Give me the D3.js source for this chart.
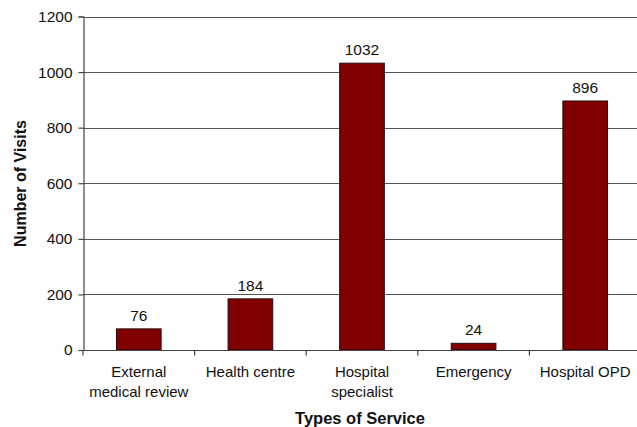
<!DOCTYPE html>
<html>
<head>
<meta charset="utf-8">
<script src="https://cdn.jsdelivr.net/npm/d3@7"></script>
<style>
  html, body { margin: 0; padding: 0; background: #fff; }
  svg { display: block; }
  text { font-family: "Liberation Sans", Arial, sans-serif; fill: #111; }
</style>
</head>
<body>
<svg id="chart" width="637" height="427"></svg>
<script>
// Visits per service type
const categories = [["External", "medical review"], ["Health centre"], ["Hospital", "specialist"], ["Emergency"], ["Hospital OPD"]];
const visits = [76, 184, 1032, 24, 896];
const yTicks = [0, 200, 400, 600, 800, 1000, 1200];

const svg = d3.select("#chart");
const plotLeft = 83, plotRight = 641, plotTop = 16.5, plotBottom = 350;

const x = d3.scaleBand()
  .domain(d3.range(categories.length))
  .range([plotLeft, plotRight])
  .paddingInner(0.6)
  .paddingOuter(0.3);

const band = d3.scaleBand().domain(d3.range(categories.length)).range([plotLeft, plotRight]);

const y = d3.scaleLinear().domain([0, 1200]).range([plotBottom, plotTop]);

// horizontal gridlines
svg.append("g")
  .selectAll("line")
  .data(yTicks.filter(d => d > 0))
  .join("line")
  .attr("x1", plotLeft).attr("x2", plotRight)
  .attr("y1", d => Math.round(y(d)) + 0.5).attr("y2", d => Math.round(y(d)) + 0.5)
  .attr("stroke", "#555").attr("stroke-width", 1.2);

// y axis
const yAxis = svg.append("g")
  .attr("transform", `translate(${plotLeft + 0.5},0)`)
  .call(d3.axisLeft(y).tickValues(yTicks).tickSize(5).tickPadding(6).tickFormat(d3.format("d")));
yAxis.select(".domain").attr("stroke", "#444").attr("stroke-width", 1.2);
yAxis.selectAll(".tick line").attr("stroke", "#444").attr("stroke-width", 1.2);
yAxis.selectAll(".tick text").attr("font-size", 15.5).attr("fill", "#111")
  .attr("font-family", "Liberation Sans, Arial, sans-serif");

// bars
svg.append("g")
  .selectAll("rect")
  .data(visits)
  .join("rect")
  .attr("x", (d, i) => x(i))
  .attr("width", x.bandwidth())
  .attr("y", d => y(d))
  .attr("height", d => plotBottom - y(d))
  .attr("fill", "#800000")
  .attr("stroke", "#2a0a0a")
  .attr("stroke-width", 1);

// value labels
svg.append("g")
  .selectAll("text")
  .data(visits)
  .join("text")
  .attr("x", (d, i) => x(i) + x.bandwidth() / 2)
  .attr("y", d => y(d) - 8)
  .attr("text-anchor", "middle")
  .attr("font-size", 15.5)
  .text(d => d);

// x axis
const xAxisY = Math.round(plotBottom) + 0.5;
svg.append("line")
  .attr("x1", plotLeft).attr("x2", plotRight)
  .attr("y1", xAxisY).attr("y2", xAxisY)
  .attr("stroke", "#444").attr("stroke-width", 1.2);
svg.append("g")
  .selectAll("line")
  .data(d3.range(categories.length + 1))
  .join("line")
  .attr("x1", i => i < categories.length ? band(i) : plotRight)
  .attr("x2", i => i < categories.length ? band(i) : plotRight)
  .attr("y1", xAxisY).attr("y2", xAxisY + 5)
  .attr("stroke", "#444").attr("stroke-width", 1.2);

// category labels
const catG = svg.append("g")
  .selectAll("text")
  .data(categories)
  .join("text")
  .attr("x", (d, i) => x(i) + x.bandwidth() / 2)
  .attr("y", 377)
  .attr("text-anchor", "middle")
  .attr("font-size", 15);
catG.selectAll("tspan")
  .data(d => d)
  .join("tspan")
  .attr("x", function () { return d3.select(this.parentNode).attr("x"); })
  .attr("dy", (d, i) => i === 0 ? 0 : 19.5)
  .text(d => d);

// axis titles
svg.append("text")
  .attr("x", 360).attr("y", 424)
  .attr("text-anchor", "middle")
  .attr("font-size", 16.5).attr("font-weight", "bold")
  .text("Types of Service");

svg.append("text")
  .attr("transform", "translate(26,183.5) rotate(-90)")
  .attr("text-anchor", "middle")
  .attr("font-size", 16).attr("font-weight", "bold")
  .text("Number of Visits");
</script>
</body>
</html>
